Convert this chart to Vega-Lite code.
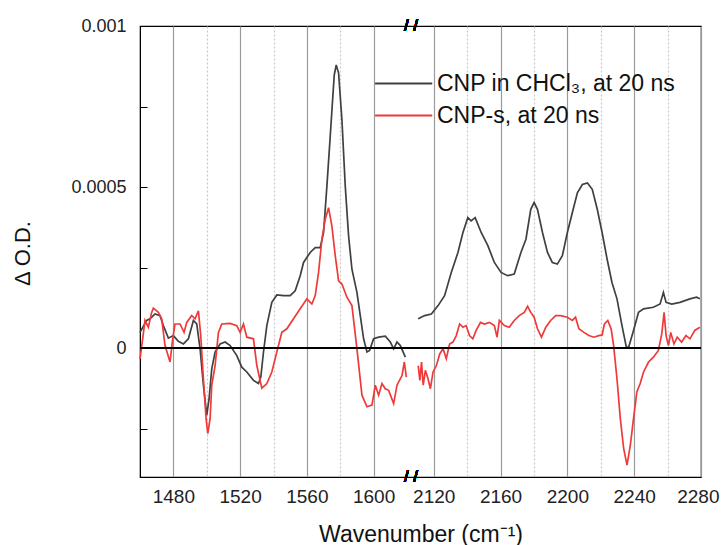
{
  "$schema": "https://vega.github.io/schema/vega-lite/v6.json",
  "width": 561,
  "height": 451,
  "autosize": {"type": "none"},
  "padding": {"left": 140, "top": 26, "right": 20, "bottom": 68},
  "background": "white",
  "config": {
    "font": "Liberation Sans",
    "view": {"stroke": "#000", "strokeWidth": 1.2},
    "axis": {"domainColor": "#000", "labelColor": "#222", "titleColor": "#111", "labelFont": "Liberation Sans", "titleFont": "Liberation Sans", "titleFontWeight": "normal"}
  },
  "data": {"values": [
    {"series":"CNP in CHCl₃, at 20 ns","seg":"L","wn":1460,"od":0.49e-4},
    {"series":"CNP in CHCl₃, at 20 ns","seg":"L","wn":1464,"od":0.86e-4},
    {"series":"CNP in CHCl₃, at 20 ns","seg":"L","wn":1466,"od":0.91e-4},
    {"series":"CNP in CHCl₃, at 20 ns","seg":"L","wn":1469,"od":1.06e-4},
    {"series":"CNP in CHCl₃, at 20 ns","seg":"L","wn":1472,"od":1.01e-4},
    {"series":"CNP in CHCl₃, at 20 ns","seg":"L","wn":1474,"od":0.70e-4},
    {"series":"CNP in CHCl₃, at 20 ns","seg":"L","wn":1477,"od":0.31e-4},
    {"series":"CNP in CHCl₃, at 20 ns","seg":"L","wn":1480,"od":0.39e-4},
    {"series":"CNP in CHCl₃, at 20 ns","seg":"L","wn":1483,"od":0.21e-4},
    {"series":"CNP in CHCl₃, at 20 ns","seg":"L","wn":1486,"od":0.13e-4},
    {"series":"CNP in CHCl₃, at 20 ns","seg":"L","wn":1489,"od":0.29e-4},
    {"series":"CNP in CHCl₃, at 20 ns","seg":"L","wn":1492,"od":0.86e-4},
    {"series":"CNP in CHCl₃, at 20 ns","seg":"L","wn":1494,"od":0.75e-4},
    {"series":"CNP in CHCl₃, at 20 ns","seg":"L","wn":1496,"od":-0.02e-4},
    {"series":"CNP in CHCl₃, at 20 ns","seg":"L","wn":1498,"od":-1.15e-4},
    {"series":"CNP in CHCl₃, at 20 ns","seg":"L","wn":1500,"od":-2.08e-4},
    {"series":"CNP in CHCl₃, at 20 ns","seg":"L","wn":1501.4,"od":-1.57e-4},
    {"series":"CNP in CHCl₃, at 20 ns","seg":"L","wn":1503,"od":-0.64e-4},
    {"series":"CNP in CHCl₃, at 20 ns","seg":"L","wn":1505,"od":-0.12e-4},
    {"series":"CNP in CHCl₃, at 20 ns","seg":"L","wn":1508,"od":0.13e-4},
    {"series":"CNP in CHCl₃, at 20 ns","seg":"L","wn":1511,"od":0.19e-4},
    {"series":"CNP in CHCl₃, at 20 ns","seg":"L","wn":1514,"od":0.08e-4},
    {"series":"CNP in CHCl₃, at 20 ns","seg":"L","wn":1518,"od":-0.23e-4},
    {"series":"CNP in CHCl₃, at 20 ns","seg":"L","wn":1521,"od":-0.59e-4},
    {"series":"CNP in CHCl₃, at 20 ns","seg":"L","wn":1524,"od":-0.74e-4},
    {"series":"CNP in CHCl₃, at 20 ns","seg":"L","wn":1528,"od":-1.00e-4},
    {"series":"CNP in CHCl₃, at 20 ns","seg":"L","wn":1531,"od":-1.10e-4},
    {"series":"CNP in CHCl₃, at 20 ns","seg":"L","wn":1532.4,"od":-0.90e-4},
    {"series":"CNP in CHCl₃, at 20 ns","seg":"L","wn":1534,"od":-0.12e-4},
    {"series":"CNP in CHCl₃, at 20 ns","seg":"L","wn":1536,"od":0.70e-4},
    {"series":"CNP in CHCl₃, at 20 ns","seg":"L","wn":1539,"od":1.42e-4},
    {"series":"CNP in CHCl₃, at 20 ns","seg":"L","wn":1542,"od":1.65e-4},
    {"series":"CNP in CHCl₃, at 20 ns","seg":"L","wn":1546,"od":1.63e-4},
    {"series":"CNP in CHCl₃, at 20 ns","seg":"L","wn":1550,"od":1.63e-4},
    {"series":"CNP in CHCl₃, at 20 ns","seg":"L","wn":1553,"od":1.78e-4},
    {"series":"CNP in CHCl₃, at 20 ns","seg":"L","wn":1556,"od":2.25e-4},
    {"series":"CNP in CHCl₃, at 20 ns","seg":"L","wn":1558,"od":2.66e-4},
    {"series":"CNP in CHCl₃, at 20 ns","seg":"L","wn":1562,"od":2.97e-4},
    {"series":"CNP in CHCl₃, at 20 ns","seg":"L","wn":1565,"od":3.12e-4},
    {"series":"CNP in CHCl₃, at 20 ns","seg":"L","wn":1568,"od":3.12e-4},
    {"series":"CNP in CHCl₃, at 20 ns","seg":"L","wn":1570,"od":3.59e-4},
    {"series":"CNP in CHCl₃, at 20 ns","seg":"L","wn":1572,"od":5.03e-4},
    {"series":"CNP in CHCl₃, at 20 ns","seg":"L","wn":1574,"od":6.58e-4},
    {"series":"CNP in CHCl₃, at 20 ns","seg":"L","wn":1576.4,"od":8.48e-4},
    {"series":"CNP in CHCl₃, at 20 ns","seg":"L","wn":1577.6,"od":8.79e-4},
    {"series":"CNP in CHCl₃, at 20 ns","seg":"L","wn":1579,"od":8.54e-4},
    {"series":"CNP in CHCl₃, at 20 ns","seg":"L","wn":1581,"od":7.09e-4},
    {"series":"CNP in CHCl₃, at 20 ns","seg":"L","wn":1583,"od":5.03e-4},
    {"series":"CNP in CHCl₃, at 20 ns","seg":"L","wn":1585,"od":3.48e-4},
    {"series":"CNP in CHCl₃, at 20 ns","seg":"L","wn":1587,"od":2.45e-4},
    {"series":"CNP in CHCl₃, at 20 ns","seg":"L","wn":1590,"od":1.73e-4},
    {"series":"CNP in CHCl₃, at 20 ns","seg":"L","wn":1592,"od":1.01e-4},
    {"series":"CNP in CHCl₃, at 20 ns","seg":"L","wn":1594,"od":0.29e-4},
    {"series":"CNP in CHCl₃, at 20 ns","seg":"L","wn":1596,"od":-0.12e-4},
    {"series":"CNP in CHCl₃, at 20 ns","seg":"L","wn":1597.6,"od":-0.07e-4},
    {"series":"CNP in CHCl₃, at 20 ns","seg":"L","wn":1600,"od":0.29e-4},
    {"series":"CNP in CHCl₃, at 20 ns","seg":"L","wn":1603,"od":0.34e-4},
    {"series":"CNP in CHCl₃, at 20 ns","seg":"L","wn":1607,"od":0.37e-4},
    {"series":"CNP in CHCl₃, at 20 ns","seg":"L","wn":1610,"od":0.19e-4},
    {"series":"CNP in CHCl₃, at 20 ns","seg":"L","wn":1612,"od":-0.02e-4},
    {"series":"CNP in CHCl₃, at 20 ns","seg":"L","wn":1614,"od":0.19e-4},
    {"series":"CNP in CHCl₃, at 20 ns","seg":"L","wn":1616,"od":0.08e-4},
    {"series":"CNP in CHCl₃, at 20 ns","seg":"L","wn":1619,"od":-0.28e-4},

    {"series":"CNP in CHCl₃, at 20 ns","seg":"R","wn":2110.7,"od":0.91e-4},
    {"series":"CNP in CHCl₃, at 20 ns","seg":"R","wn":2114.6,"od":1.01e-4},
    {"series":"CNP in CHCl₃, at 20 ns","seg":"R","wn":2118.6,"od":1.06e-4},
    {"series":"CNP in CHCl₃, at 20 ns","seg":"R","wn":2122.6,"od":1.32e-4},
    {"series":"CNP in CHCl₃, at 20 ns","seg":"R","wn":2126.5,"od":1.63e-4},
    {"series":"CNP in CHCl₃, at 20 ns","seg":"R","wn":2130.5,"od":2.35e-4},
    {"series":"CNP in CHCl₃, at 20 ns","seg":"R","wn":2134.5,"od":2.97e-4},
    {"series":"CNP in CHCl₃, at 20 ns","seg":"R","wn":2137.5,"od":3.59e-4},
    {"series":"CNP in CHCl₃, at 20 ns","seg":"R","wn":2140.4,"od":4.05e-4},
    {"series":"CNP in CHCl₃, at 20 ns","seg":"R","wn":2142.4,"od":3.95e-4},
    {"series":"CNP in CHCl₃, at 20 ns","seg":"R","wn":2144.8,"od":4.05e-4},
    {"series":"CNP in CHCl₃, at 20 ns","seg":"R","wn":2148.4,"od":3.59e-4},
    {"series":"CNP in CHCl₃, at 20 ns","seg":"R","wn":2152.4,"od":3.18e-4},
    {"series":"CNP in CHCl₃, at 20 ns","seg":"R","wn":2156.3,"od":2.66e-4},
    {"series":"CNP in CHCl₃, at 20 ns","seg":"R","wn":2160.3,"od":2.35e-4},
    {"series":"CNP in CHCl₃, at 20 ns","seg":"R","wn":2164.2,"od":2.25e-4},
    {"series":"CNP in CHCl₃, at 20 ns","seg":"R","wn":2168.2,"od":2.30e-4},
    {"series":"CNP in CHCl₃, at 20 ns","seg":"R","wn":2172.2,"od":2.97e-4},
    {"series":"CNP in CHCl₃, at 20 ns","seg":"R","wn":2175.2,"od":3.38e-4},
    {"series":"CNP in CHCl₃, at 20 ns","seg":"R","wn":2178.1,"od":4.31e-4},
    {"series":"CNP in CHCl₃, at 20 ns","seg":"R","wn":2180.1,"od":4.52e-4},
    {"series":"CNP in CHCl₃, at 20 ns","seg":"R","wn":2182.1,"od":4.31e-4},
    {"series":"CNP in CHCl₃, at 20 ns","seg":"R","wn":2185.1,"od":3.59e-4},
    {"series":"CNP in CHCl₃, at 20 ns","seg":"R","wn":2188.1,"od":2.97e-4},
    {"series":"CNP in CHCl₃, at 20 ns","seg":"R","wn":2191.0,"od":2.66e-4},
    {"series":"CNP in CHCl₃, at 20 ns","seg":"R","wn":2194.0,"od":2.61e-4},
    {"series":"CNP in CHCl₃, at 20 ns","seg":"R","wn":2197.0,"od":2.87e-4},
    {"series":"CNP in CHCl₃, at 20 ns","seg":"R","wn":2200.0,"od":3.59e-4},
    {"series":"CNP in CHCl₃, at 20 ns","seg":"R","wn":2203.0,"od":4.21e-4},
    {"series":"CNP in CHCl₃, at 20 ns","seg":"R","wn":2206.0,"od":4.82e-4},
    {"series":"CNP in CHCl₃, at 20 ns","seg":"R","wn":2209.0,"od":5.08e-4},
    {"series":"CNP in CHCl₃, at 20 ns","seg":"R","wn":2212.0,"od":5.13e-4},
    {"series":"CNP in CHCl₃, at 20 ns","seg":"R","wn":2214.9,"od":4.93e-4},
    {"series":"CNP in CHCl₃, at 20 ns","seg":"R","wn":2217.9,"od":4.31e-4},
    {"series":"CNP in CHCl₃, at 20 ns","seg":"R","wn":2220.8,"od":3.59e-4},
    {"series":"CNP in CHCl₃, at 20 ns","seg":"R","wn":2223.8,"od":2.76e-4},
    {"series":"CNP in CHCl₃, at 20 ns","seg":"R","wn":2226.7,"od":2.04e-4},
    {"series":"CNP in CHCl₃, at 20 ns","seg":"R","wn":2229.7,"od":1.53e-4},
    {"series":"CNP in CHCl₃, at 20 ns","seg":"R","wn":2232.7,"od":0.70e-4},
    {"series":"CNP in CHCl₃, at 20 ns","seg":"R","wn":2235.3,"od":0.03e-4},
    {"series":"CNP in CHCl₃, at 20 ns","seg":"R","wn":2236.7,"od":0.03e-4},
    {"series":"CNP in CHCl₃, at 20 ns","seg":"R","wn":2239.6,"od":0.55e-4},
    {"series":"CNP in CHCl₃, at 20 ns","seg":"R","wn":2242.6,"od":1.11e-4},
    {"series":"CNP in CHCl₃, at 20 ns","seg":"R","wn":2245.6,"od":1.22e-4},
    {"series":"CNP in CHCl₃, at 20 ns","seg":"R","wn":2251.5,"od":1.27e-4},
    {"series":"CNP in CHCl₃, at 20 ns","seg":"R","wn":2255.5,"od":1.37e-4},
    {"series":"CNP in CHCl₃, at 20 ns","seg":"R","wn":2257.5,"od":1.73e-4},
    {"series":"CNP in CHCl₃, at 20 ns","seg":"R","wn":2259.1,"od":1.42e-4},
    {"series":"CNP in CHCl₃, at 20 ns","seg":"R","wn":2262.5,"od":1.37e-4},
    {"series":"CNP in CHCl₃, at 20 ns","seg":"R","wn":2267.4,"od":1.42e-4},
    {"series":"CNP in CHCl₃, at 20 ns","seg":"R","wn":2273.4,"od":1.53e-4},
    {"series":"CNP in CHCl₃, at 20 ns","seg":"R","wn":2277.3,"od":1.58e-4},
    {"series":"CNP in CHCl₃, at 20 ns","seg":"R","wn":2279.3,"od":1.53e-4},

    {"series":"CNP-s, at 20 ns","seg":"L","wn":1460,"od":-0.33e-4},
    {"series":"CNP-s, at 20 ns","seg":"L","wn":1461.6,"od":0.29e-4},
    {"series":"CNP-s, at 20 ns","seg":"L","wn":1463,"od":0.86e-4},
    {"series":"CNP-s, at 20 ns","seg":"L","wn":1465,"od":0.65e-4},
    {"series":"CNP-s, at 20 ns","seg":"L","wn":1467,"od":1.11e-4},
    {"series":"CNP-s, at 20 ns","seg":"L","wn":1468,"od":1.24e-4},
    {"series":"CNP-s, at 20 ns","seg":"L","wn":1471,"od":1.11e-4},
    {"series":"CNP-s, at 20 ns","seg":"L","wn":1473,"od":0.91e-4},
    {"series":"CNP-s, at 20 ns","seg":"L","wn":1475,"od":0.08e-4},
    {"series":"CNP-s, at 20 ns","seg":"L","wn":1478,"od":-0.43e-4},
    {"series":"CNP-s, at 20 ns","seg":"L","wn":1479.6,"od":0.29e-4},
    {"series":"CNP-s, at 20 ns","seg":"L","wn":1481,"od":0.75e-4},
    {"series":"CNP-s, at 20 ns","seg":"L","wn":1484,"od":0.75e-4},
    {"series":"CNP-s, at 20 ns","seg":"L","wn":1486.4,"od":0.49e-4},
    {"series":"CNP-s, at 20 ns","seg":"L","wn":1488,"od":0.80e-4},
    {"series":"CNP-s, at 20 ns","seg":"L","wn":1491,"od":1.01e-4},
    {"series":"CNP-s, at 20 ns","seg":"L","wn":1493,"od":0.91e-4},
    {"series":"CNP-s, at 20 ns","seg":"L","wn":1495,"od":1.16e-4},
    {"series":"CNP-s, at 20 ns","seg":"L","wn":1496.4,"od":0.39e-4},
    {"series":"CNP-s, at 20 ns","seg":"L","wn":1498,"od":-0.95e-4},
    {"series":"CNP-s, at 20 ns","seg":"L","wn":1499.6,"od":-2.19e-4},
    {"series":"CNP-s, at 20 ns","seg":"L","wn":1500.6,"od":-2.65e-4},
    {"series":"CNP-s, at 20 ns","seg":"L","wn":1502,"od":-2.19e-4},
    {"series":"CNP-s, at 20 ns","seg":"L","wn":1503,"od":-1.15e-4},
    {"series":"CNP-s, at 20 ns","seg":"L","wn":1505,"od":-0.54e-4},
    {"series":"CNP-s, at 20 ns","seg":"L","wn":1507,"od":0.49e-4},
    {"series":"CNP-s, at 20 ns","seg":"L","wn":1509,"od":0.75e-4},
    {"series":"CNP-s, at 20 ns","seg":"L","wn":1514,"od":0.77e-4},
    {"series":"CNP-s, at 20 ns","seg":"L","wn":1518,"od":0.70e-4},
    {"series":"CNP-s, at 20 ns","seg":"L","wn":1520,"od":0.49e-4},
    {"series":"CNP-s, at 20 ns","seg":"L","wn":1522,"od":0.75e-4},
    {"series":"CNP-s, at 20 ns","seg":"L","wn":1524,"od":0.34e-4},
    {"series":"CNP-s, at 20 ns","seg":"L","wn":1528,"od":0.29e-4},
    {"series":"CNP-s, at 20 ns","seg":"L","wn":1530,"od":-0.54e-4},
    {"series":"CNP-s, at 20 ns","seg":"L","wn":1533,"od":-1.24e-4},
    {"series":"CNP-s, at 20 ns","seg":"L","wn":1536,"od":-1.10e-4},
    {"series":"CNP-s, at 20 ns","seg":"L","wn":1539,"od":-0.74e-4},
    {"series":"CNP-s, at 20 ns","seg":"L","wn":1542,"od":-0.12e-4},
    {"series":"CNP-s, at 20 ns","seg":"L","wn":1545,"od":0.49e-4},
    {"series":"CNP-s, at 20 ns","seg":"L","wn":1548,"od":0.60e-4},
    {"series":"CNP-s, at 20 ns","seg":"L","wn":1552,"od":0.91e-4},
    {"series":"CNP-s, at 20 ns","seg":"L","wn":1556,"od":1.22e-4},
    {"series":"CNP-s, at 20 ns","seg":"L","wn":1560,"od":1.53e-4},
    {"series":"CNP-s, at 20 ns","seg":"L","wn":1563,"od":1.37e-4},
    {"series":"CNP-s, at 20 ns","seg":"L","wn":1565,"od":1.63e-4},
    {"series":"CNP-s, at 20 ns","seg":"L","wn":1567,"od":2.35e-4},
    {"series":"CNP-s, at 20 ns","seg":"L","wn":1569,"od":3.38e-4},
    {"series":"CNP-s, at 20 ns","seg":"L","wn":1571,"od":4.00e-4},
    {"series":"CNP-s, at 20 ns","seg":"L","wn":1573,"od":4.36e-4},
    {"series":"CNP-s, at 20 ns","seg":"L","wn":1575,"od":3.79e-4},
    {"series":"CNP-s, at 20 ns","seg":"L","wn":1577,"od":2.87e-4},
    {"series":"CNP-s, at 20 ns","seg":"L","wn":1579,"od":2.09e-4},
    {"series":"CNP-s, at 20 ns","seg":"L","wn":1581,"od":1.99e-4},
    {"series":"CNP-s, at 20 ns","seg":"L","wn":1584,"od":1.58e-4},
    {"series":"CNP-s, at 20 ns","seg":"L","wn":1587,"od":1.32e-4},
    {"series":"CNP-s, at 20 ns","seg":"L","wn":1590,"od":-0.02e-4},
    {"series":"CNP-s, at 20 ns","seg":"L","wn":1593,"od":-1.46e-4},
    {"series":"CNP-s, at 20 ns","seg":"L","wn":1596,"od":-1.82e-4},
    {"series":"CNP-s, at 20 ns","seg":"L","wn":1599,"od":-1.77e-4},
    {"series":"CNP-s, at 20 ns","seg":"L","wn":1601,"od":-1.15e-4},
    {"series":"CNP-s, at 20 ns","seg":"L","wn":1603,"od":-1.46e-4},
    {"series":"CNP-s, at 20 ns","seg":"L","wn":1605,"od":-1.10e-4},
    {"series":"CNP-s, at 20 ns","seg":"L","wn":1607,"od":-1.26e-4},
    {"series":"CNP-s, at 20 ns","seg":"L","wn":1609,"od":-1.31e-4},
    {"series":"CNP-s, at 20 ns","seg":"L","wn":1612,"od":-1.72e-4},
    {"series":"CNP-s, at 20 ns","seg":"L","wn":1614,"od":-1.15e-4},
    {"series":"CNP-s, at 20 ns","seg":"L","wn":1617,"od":-0.85e-4},
    {"series":"CNP-s, at 20 ns","seg":"L","wn":1618.4,"od":-0.43e-4},
    {"series":"CNP-s, at 20 ns","seg":"L","wn":1619.6,"od":-0.90e-4},

    {"series":"CNP-s, at 20 ns","seg":"R","wn":2110.7,"od":-0.54e-4},
    {"series":"CNP-s, at 20 ns","seg":"R","wn":2111.7,"od":-1.00e-4},
    {"series":"CNP-s, at 20 ns","seg":"R","wn":2112.7,"od":-0.43e-4},
    {"series":"CNP-s, at 20 ns","seg":"R","wn":2113.7,"od":-1.15e-4},
    {"series":"CNP-s, at 20 ns","seg":"R","wn":2115.0,"od":-0.69e-4},
    {"series":"CNP-s, at 20 ns","seg":"R","wn":2116.6,"od":-0.95e-4},
    {"series":"CNP-s, at 20 ns","seg":"R","wn":2118.0,"od":-1.26e-4},
    {"series":"CNP-s, at 20 ns","seg":"R","wn":2119.6,"od":-0.74e-4},
    {"series":"CNP-s, at 20 ns","seg":"R","wn":2121.6,"od":-0.54e-4},
    {"series":"CNP-s, at 20 ns","seg":"R","wn":2123.6,"od":-0.18e-4},
    {"series":"CNP-s, at 20 ns","seg":"R","wn":2125.6,"od":-0.02e-4},
    {"series":"CNP-s, at 20 ns","seg":"R","wn":2127.5,"od":-0.33e-4},
    {"series":"CNP-s, at 20 ns","seg":"R","wn":2129.5,"od":0.13e-4},
    {"series":"CNP-s, at 20 ns","seg":"R","wn":2131.5,"od":0.19e-4},
    {"series":"CNP-s, at 20 ns","seg":"R","wn":2133.5,"od":0.39e-4},
    {"series":"CNP-s, at 20 ns","seg":"R","wn":2135.5,"od":0.75e-4},
    {"series":"CNP-s, at 20 ns","seg":"R","wn":2137.5,"od":0.65e-4},
    {"series":"CNP-s, at 20 ns","seg":"R","wn":2139.4,"od":0.70e-4},
    {"series":"CNP-s, at 20 ns","seg":"R","wn":2141.4,"od":0.39e-4},
    {"series":"CNP-s, at 20 ns","seg":"R","wn":2143.4,"od":0.29e-4},
    {"series":"CNP-s, at 20 ns","seg":"R","wn":2145.4,"od":0.55e-4},
    {"series":"CNP-s, at 20 ns","seg":"R","wn":2148.0,"od":0.80e-4},
    {"series":"CNP-s, at 20 ns","seg":"R","wn":2150.4,"od":0.75e-4},
    {"series":"CNP-s, at 20 ns","seg":"R","wn":2153.3,"od":0.80e-4},
    {"series":"CNP-s, at 20 ns","seg":"R","wn":2156.3,"od":0.70e-4},
    {"series":"CNP-s, at 20 ns","seg":"R","wn":2157.9,"od":0.34e-4},
    {"series":"CNP-s, at 20 ns","seg":"R","wn":2159.3,"od":0.86e-4},
    {"series":"CNP-s, at 20 ns","seg":"R","wn":2162.3,"od":0.70e-4},
    {"series":"CNP-s, at 20 ns","seg":"R","wn":2165.2,"od":0.65e-4},
    {"series":"CNP-s, at 20 ns","seg":"R","wn":2168.2,"od":0.86e-4},
    {"series":"CNP-s, at 20 ns","seg":"R","wn":2171.2,"od":1.01e-4},
    {"series":"CNP-s, at 20 ns","seg":"R","wn":2174.2,"od":1.11e-4},
    {"series":"CNP-s, at 20 ns","seg":"R","wn":2176.2,"od":1.30e-4},
    {"series":"CNP-s, at 20 ns","seg":"R","wn":2178.1,"od":1.11e-4},
    {"series":"CNP-s, at 20 ns","seg":"R","wn":2180.1,"od":0.96e-4},
    {"series":"CNP-s, at 20 ns","seg":"R","wn":2182.1,"od":0.60e-4},
    {"series":"CNP-s, at 20 ns","seg":"R","wn":2184.5,"od":0.34e-4},
    {"series":"CNP-s, at 20 ns","seg":"R","wn":2187.1,"od":0.65e-4},
    {"series":"CNP-s, at 20 ns","seg":"R","wn":2190.0,"od":0.86e-4},
    {"series":"CNP-s, at 20 ns","seg":"R","wn":2193.0,"od":1.01e-4},
    {"series":"CNP-s, at 20 ns","seg":"R","wn":2196.0,"od":1.01e-4},
    {"series":"CNP-s, at 20 ns","seg":"R","wn":2200.0,"od":0.96e-4},
    {"series":"CNP-s, at 20 ns","seg":"R","wn":2203.0,"od":0.86e-4},
    {"series":"CNP-s, at 20 ns","seg":"R","wn":2204.9,"od":0.96e-4},
    {"series":"CNP-s, at 20 ns","seg":"R","wn":2206.9,"od":0.60e-4},
    {"series":"CNP-s, at 20 ns","seg":"R","wn":2209.9,"od":0.49e-4},
    {"series":"CNP-s, at 20 ns","seg":"R","wn":2212.9,"od":0.39e-4},
    {"series":"CNP-s, at 20 ns","seg":"R","wn":2215.8,"od":0.34e-4},
    {"series":"CNP-s, at 20 ns","seg":"R","wn":2218.8,"od":0.39e-4},
    {"series":"CNP-s, at 20 ns","seg":"R","wn":2220.8,"od":0.41e-4},
    {"series":"CNP-s, at 20 ns","seg":"R","wn":2222.2,"od":0.75e-4},
    {"series":"CNP-s, at 20 ns","seg":"R","wn":2224.2,"od":0.86e-4},
    {"series":"CNP-s, at 20 ns","seg":"R","wn":2226.2,"od":0.60e-4},
    {"series":"CNP-s, at 20 ns","seg":"R","wn":2227.7,"od":0.08e-4},
    {"series":"CNP-s, at 20 ns","seg":"R","wn":2229.7,"od":-0.95e-4},
    {"series":"CNP-s, at 20 ns","seg":"R","wn":2231.7,"od":-2.19e-4},
    {"series":"CNP-s, at 20 ns","seg":"R","wn":2233.7,"od":-3.11e-4},
    {"series":"CNP-s, at 20 ns","seg":"R","wn":2235.7,"od":-3.63e-4},
    {"series":"CNP-s, at 20 ns","seg":"R","wn":2237.7,"od":-3.01e-4},
    {"series":"CNP-s, at 20 ns","seg":"R","wn":2239.6,"od":-2.19e-4},
    {"series":"CNP-s, at 20 ns","seg":"R","wn":2241.6,"od":-1.36e-4},
    {"series":"CNP-s, at 20 ns","seg":"R","wn":2243.6,"od":-1.10e-4},
    {"series":"CNP-s, at 20 ns","seg":"R","wn":2245.6,"od":-0.74e-4},
    {"series":"CNP-s, at 20 ns","seg":"R","wn":2248.6,"od":-0.43e-4},
    {"series":"CNP-s, at 20 ns","seg":"R","wn":2251.5,"od":-0.28e-4},
    {"series":"CNP-s, at 20 ns","seg":"R","wn":2254.5,"od":-0.07e-4},
    {"series":"CNP-s, at 20 ns","seg":"R","wn":2256.5,"od":0.44e-4},
    {"series":"CNP-s, at 20 ns","seg":"R","wn":2257.9,"od":1.11e-4},
    {"series":"CNP-s, at 20 ns","seg":"R","wn":2259.1,"od":0.39e-4},
    {"series":"CNP-s, at 20 ns","seg":"R","wn":2260.5,"od":0.08e-4},
    {"series":"CNP-s, at 20 ns","seg":"R","wn":2261.9,"od":0.49e-4},
    {"series":"CNP-s, at 20 ns","seg":"R","wn":2263.8,"od":0.13e-4},
    {"series":"CNP-s, at 20 ns","seg":"R","wn":2265.8,"od":0.34e-4},
    {"series":"CNP-s, at 20 ns","seg":"R","wn":2268.4,"od":0.19e-4},
    {"series":"CNP-s, at 20 ns","seg":"R","wn":2271.0,"od":0.39e-4},
    {"series":"CNP-s, at 20 ns","seg":"R","wn":2273.4,"od":0.29e-4},
    {"series":"CNP-s, at 20 ns","seg":"R","wn":2276.3,"od":0.55e-4},
    {"series":"CNP-s, at 20 ns","seg":"R","wn":2279.3,"od":0.65e-4}
  ]},
  "layer": [
    {
      "mark": {"type": "line", "strokeWidth": 1.7, "interpolate": "linear"},
      "encoding": {
        "x": {
          "field": "wn", "type": "quantitative",
          "scale": {"domain": [1460, 1620, 2104, 2280], "range": [0, 267, 267, 561], "nice": false, "zero": false},
          "axis": {
            "title": "Wavenumber (cm⁻¹)",
            "values": [1480, 1500, 1520, 1540, 1560, 1580, 1600, 2120, 2140, 2160, 2180, 2200, 2220, 2240, 2260, 2280],
            "tickCount": 100,
            "format": "d",
            "labelExpr": "datum.value % 40 == 0 ? datum.label : ''",
            "labelFontSize": 19,
            "labelPadding": 10,
            "labelFlush": 1,
            "labelFlushOffset": 18,
            "labelOverlap": false,
            "ticks": false,
            "grid": true,
            "gridColor": {"condition": {"test": "datum.value % 40 == 0", "value": "#9a9a9a"}, "value": "#c8c8c8"},
            "gridDash": {"condition": {"test": "datum.value % 40 == 0", "value": []}, "value": [2, 2]},
            "gridWidth": 1.2,
            "titleFontSize": 23,
            "titleBaseline": "alphabetic",
            "titleY": 64
          }
        },
        "y": {
          "field": "od", "type": "quantitative",
          "scale": {"domain": [-0.0004, 0.001], "nice": false, "zero": false},
          "axis": {
            "title": "Δ O.D.",
            "values": [-0.00025, 0, 0.00025, 0.0005, 0.00075, 0.001],
            "tickCount": 100,
            "labelExpr": "abs(datum.value) < 1e-9 ? '0' : (abs(datum.value - 0.0005) < 1e-9 ? '0.0005' : (abs(datum.value - 0.001) < 1e-9 ? '0.001' : ''))",
            "labelFontSize": 18,
            "labelPadding": 21,
            "tickSize": -7,
            "tickColor": "#000",
            "grid": false,
            "titleFontSize": 22,
            "titleX": -118,
            "titleY": 227,
            "titleAngle": -90,
            "titleBaseline": "middle"
          }
        },
        "color": {
          "field": "series", "type": "nominal",
          "scale": {"domain": ["CNP in CHCl₃, at 20 ns", "CNP-s, at 20 ns"], "range": ["#404040", "#f03a3a"]},
          "legend": {
            "title": null, "orient": "none", "legendX": 231, "legendY": 46,
            "symbolType": "M-1.4,0H9.4", "symbolSize": 112, "symbolStrokeWidth": 2,
            "labelFontSize": 23, "labelColor": "#111", "labelOffset": 43, "rowPadding": 8, "padding": 0,
            "labelLimit": 400
          }
        },
        "detail": {"field": "seg", "type": "nominal"}
      }
    },
    {
      "mark": {"type": "rule", "color": "#000", "strokeWidth": 1.2},
      "encoding": {"y": {"datum": 0}}
    },
    {
      "mark": {"type": "text", "text": "/ /", "fontSize": 17, "color": "#000", "baseline": "middle", "dx": 4},
      "encoding": {"x": {"datum": 1620}, "y": {"datum": 0.001}}
    },
    {
      "mark": {"type": "text", "text": "/ /", "fontSize": 17, "color": "#000", "baseline": "middle", "dx": 4},
      "encoding": {"x": {"datum": 1620}, "y": {"datum": -0.0004}}
    }
  ]
}
